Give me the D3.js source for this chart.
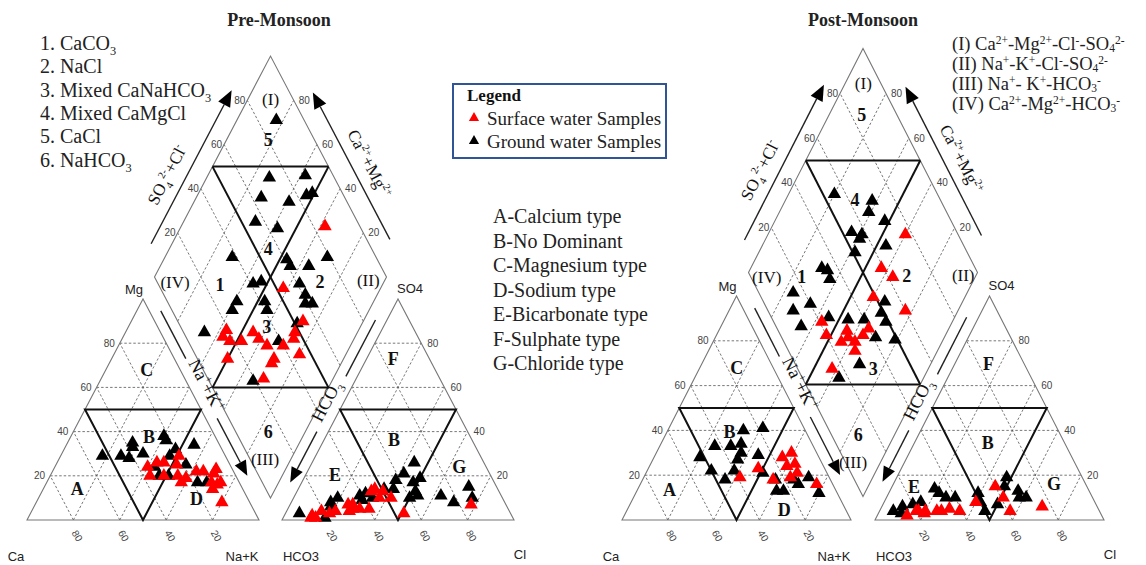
<!DOCTYPE html>
<html>
<head>
<meta charset="utf-8">
<script src="https://cdn.jsdelivr.net/npm/d3@7"></script>
<style>
  body { margin: 0; background: #fff; }
</style>
</head>
<body>
<svg id="mainsvg" width="1146" height="565"></svg>
<script>

// ---- data ----
// cation triangle: [Mg %, Na+K %]
const preCatBlack = [[29,18],[29,26],[28,30],[33,29],[35,28],[30,35],[38,40],[36,42],[29,47],[32,48],[34,55],[25,56],[20,47],[20,51],[17,65],[17,69],[24,43]]
const preCatRed = [[26,43],[26,46],[25,52],[29,51],[20,43],[20,55],[19,59],[22,62],[22,65],[21,70],[23,70],[17,71],[16,74],[17,75],[8,80],[17,58],[20,49],[24,40],[14,73]]
// anion triangle: [SO4 %, Cl %]
const preAnBlack = [[3,6],[8,17],[10,19],[11,28],[12,30],[10,34],[14,37],[14,41],[18,40],[21,42],[26,44],[17,48],[13,51],[10,50],[11,53],[19,50],[11,63],[8,70],[15,73],[10,77],[1,18],[6,18],[9,30]]
const preAnRed = [[2,12],[4,15],[1,14],[3,19],[4,21],[7,25],[4,27],[5,28],[5,35],[14,33],[10,37],[13,37],[10,42],[3,51],[7,78],[1,12],[5,31],[7,27],[13,32]]
// diamond: [SO4+Cl %, Ca+Mg %]
const preDiaBlack = [[88,83],[72,73],[88,58],[64,72],[75,59],[84,53],[87,51],[56,69],[64,58],[38,71],[61,47],[61,44],[69,36],[79,30],[45,53],[41,56],[61,36],[61,31],[42,47],[41,44],[30,59],[26,59],[59,29],[62,26],[51,28],[9,66],[39,32],[19,34]]
const preDiaRed = [[85,38],[53,42],[54,26],[19,57],[16,57],[18,53],[23,48],[30,45],[31,41],[33,36],[40,29],[48,27],[46,26],[45,20],[33,30],[31,30],[13,50],[24,30]]

const postCatBlack = [[40,33],[41,41],[33,24],[33,31],[34,35],[30,37],[27,37],[29,45],[28,20],[22,28],[18,36],[22,38],[21,51],[18,58],[13,61],[13,64],[18,66],[16,69],[19,72],[12,80]]
const postCatRed = [[19,42],[23,48],[18,57],[28,56],[30,59],[24,60],[25,63],[21,66],[19,64],[16,77]]
const postAnBlack = [[4,6],[6,9],[7,13],[8,16],[14,19],[12,22],[10,26],[10,30],[12,39],[8,42],[7,50],[19,48],[15,49],[13,56],[10,61],[10,58],[4,46],[3,10]]
const postAnRed = [[2,13],[4,17],[4,20],[4,25],[4,27],[5,30],[4,35],[8,40],[15,45],[10,51],[4,57],[6,70],[3,20],[4,16]]
const postDiaBlack = [[55,80],[70,62],[66,61],[71,52],[54,64],[58,59],[56,59],[51,58],[66,46],[33,69],[35,66],[34,63],[15,76],[20,66],[11,72],[11,65],[25,55],[33,46],[40,39],[53,34],[49,33],[49,29],[41,30],[49,21],[28,31],[16,37]]
const postDiaRed = [[77,40],[59,43],[62,36],[49,40],[60,23],[21,57],[20,52],[30,44],[25,44],[31,38],[36,36],[40,35],[29,36],[15,42],[29,42]]

const ticks = [20, 40, 60, 80]
const typeList = ['A-Calcium type','B-No Dominant','C-Magnesium type','D-Sodium type','E-Bicarbonate type','F-Sulphate type','G-Chloride type']
const saltList = [
  [['1. CaCO','n'],['3','sub']],
  [['2. NaCl','n']],
  [['3. Mixed CaNaHCO','n'],['3','sub']],
  [['4. Mixed CaMgCl','n']],
  [['5. CaCl','n']],
  [['6. NaHCO','n'],['3','sub']]
]
const facList = [
  [['(I) Ca','n'],['2+','sup'],['-Mg','n'],['2+','sup'],['-Cl','n'],['-','sup'],['-SO','n'],['4','sub'],['2-','sup']],
  [['(II) Na','n'],['+','sup'],['-K','n'],['+','sup'],['-Cl','n'],['-','sup'],['-SO','n'],['4','sub'],['2-','sup']],
  [['(III) Na','n'],['+','sup'],['- K','n'],['+','sup'],['-HCO','n'],['3','sub'],['-','sup']],
  [['(IV) Ca','n'],['2+','sup'],['-Mg','n'],['2+','sup'],['-HCO','n'],['3','sub'],['-','sup']]
]

const SERIF = "'Liberation Serif','Times New Roman',serif"
const SANS = "'Liberation Sans',Arial,sans-serif"

const panels = [
  { title: 'Pre-Monsoon', titleX: 279, x0: 27, yb: 520, W: 232, H: 221, gap: 23,
    cat: [preCatBlack, preCatRed], an: [preAnBlack, preAnRed], dia: [preDiaBlack, preDiaRed],
    marks: [['A',0.217,0.143,1],['B',0.526,0.377,1],['C',0.516,0.679,1],['D',0.731,0.098,1],
            ['E',1.328,0.204,1],['B',1.582,0.365,1],['F',1.579,0.729,1],['G',1.863,0.241,1],
            ['(I)',1.050,1.905,0],['5',1.040,1.719,1],['4',1.040,1.229,1],['1',0.832,1.063,1],['2',1.263,1.078,1],
            ['(IV)',0.638,1.078,0],['(II)',1.471,1.086,0],['3',1.033,0.875,1],['6',1.040,0.400,1],['(III)',1.026,0.276,0]] },
  { title: 'Post-Monsoon', titleX: 863, x0: 622, yb: 520, W: 229, H: 224, gap: 24,
    cat: [postCatBlack, postCatRed], an: [postAnBlack, postAnRed], dia: [postDiaBlack, postDiaRed],
    marks: [['A',0.207,0.134,1],['B',0.469,0.394,1],['C',0.501,0.682,1],['D',0.709,0.045,1],
            ['E',1.275,0.149,1],['B',1.597,0.347,1],['F',1.600,0.700,1],['G',1.886,0.161,1],
            ['(I)',1.054,1.950,0],['5',1.047,1.808,1],['4',1.017,1.429,1],['1',0.785,1.086,1],['2',1.243,1.089,1],
            ['(IV)',0.632,1.086,0],['(II)',1.490,1.094,0],['3',1.097,0.677,1],['6',1.032,0.379,1],['(III)',1.009,0.259,0]] }
]

let svg = d3.select('#mainsvg')

// text with sub / superscripts
function richText (sel, parts, base, subK = 0.3, supK = 0.4) {
  let shift = 0
  parts.forEach(([s, m]) => {
    const target = m === 'sub' ? base * subK : m === 'sup' ? -base * supK : 0
    sel.append('tspan')
      .attr('dy', target - shift)
      .attr('font-size', m === 'n' ? base : base * 0.62)
      .text(s)
    shift = target
  })
}

function arrowHead (g, p0, p1, size) {
  const dx = p1[0] - p0[0], dy = p1[1] - p0[1], L = Math.hypot(dx, dy)
  const ux = dx / L, uy = dy / L, nx = -uy, ny = ux
  const tip = [p1[0] + ux * size, p1[1] + uy * size]
  const a = [p1[0] + nx * size * 0.42, p1[1] + ny * size * 0.42]
  const b = [p1[0] - nx * size * 0.42, p1[1] - ny * size * 0.42]
  g.append('path').attr('d', `M${tip}L${a}L${b}Z`).attr('fill', '#000')
}

function drawPiper (P) {
  const g = svg.append('g')
  const xs = d3.scaleLinear().domain([0, 1]).range([P.x0, P.x0 + P.W])
  const ys = d3.scaleLinear().domain([0, 1]).range([P.yb, P.yb - P.H])
  const gp = P.gap / P.W
  const pt = (u, v) => [xs(u), ys(v)]
  const cat = (mg, na) => pt(na / 100 + mg / 200, mg / 100)
  const an = (so, cl) => pt(1 + gp + cl / 100 + so / 200, so / 100)
  const dia = (s, c) => pt(1 + gp / 2 + (s - c) / 200, gp + (s + c) / 100)
  const line = d3.line()
  const ang = Math.atan2(P.H, P.W / 2) * 180 / Math.PI

  // dashed grid
  const grid = g.append('g').attr('fill', 'none').attr('stroke', '#555')
    .attr('stroke-width', 0.8).attr('stroke-dasharray', '2.5,2')
  ;[0, 1 + gp].forEach(ox => {
    ticks.forEach(t => {
      const k = t / 100
      grid.append('path').attr('d', line([pt(ox + k / 2, k), pt(ox + 1 - k / 2, k)]))
      grid.append('path').attr('d', line([pt(ox + k, 0), pt(ox + k + (1 - k) / 2, 1 - k)]))
      grid.append('path').attr('d', line([pt(ox + 1 - k, 0), pt(ox + (1 - k) / 2, 1 - k)]))
    })
  })
  ticks.forEach(t => {
    grid.append('path').attr('d', line([dia(t, 0), dia(t, 100)]))
    grid.append('path').attr('d', line([dia(0, t), dia(100, t)]))
  })

  // outlines
  const outl = g.append('g').attr('fill', 'none').attr('stroke', '#777').attr('stroke-width', 1.1)
  outl.append('path').attr('d', line([cat(0, 0), cat(100, 0), cat(0, 100)]) + 'Z')
  outl.append('path').attr('d', line([an(0, 0), an(100, 0), an(0, 100)]) + 'Z')
  outl.append('path').attr('d', line([dia(0, 0), dia(100, 0), dia(100, 100), dia(0, 100)]) + 'Z')

  // thick facies lines
  const thick = g.append('g').attr('fill', 'none').attr('stroke', '#111').attr('stroke-width', 2)
  ;[0, 1 + gp].forEach(ox => {
    thick.append('path').attr('d', line([pt(ox + 0.25, 0.5), pt(ox + 0.75, 0.5), pt(ox + 0.5, 0)]) + 'Z')
  })
  thick.append('path').attr('d', line([dia(50, 0), dia(50, 100)]))
  thick.append('path').attr('d', line([dia(0, 50), dia(100, 50)]))
  thick.append('path').attr('d', line([dia(50, 100), dia(100, 50)]))
  thick.append('path').attr('d', line([dia(0, 50), dia(50, 0)]))

  // tick labels
  const tl = g.append('g').attr('font-family', SANS).attr('font-size', 10).attr('fill', '#444')
  ticks.forEach(t => {
    let p = cat(t, 0)
    tl.append('text').attr('x', p[0] - 5).attr('y', p[1]).attr('dy', '0.35em').attr('text-anchor', 'end').text(t)
    p = an(t, 100 - t)
    tl.append('text').attr('x', p[0] + 6).attr('y', p[1]).attr('dy', '0.35em').text(t)
    p = dia(t, 100)
    tl.append('text').attr('x', p[0] - 2).attr('y', p[1]).attr('dy', '0.35em').attr('text-anchor', 'end').text(t)
    p = dia(100, t)
    tl.append('text').attr('x', p[0] + 5).attr('y', p[1]).attr('dy', '0.35em').text(t)
    p = cat(0, 100 - t)
    tl.append('text').attr('transform', `translate(${p[0] + 1},${p[1] + 11}) rotate(60)`).attr('dy', '0.35em').text(t)
    p = an(0, t)
    tl.append('text').attr('transform', `translate(${p[0] + 1},${p[1] + 11}) rotate(60)`).attr('dy', '0.35em').text(t)
  })

  // vertex labels
  const vl = g.append('g').attr('font-family', SANS).attr('font-size', 13).attr('fill', '#222')
    .attr('text-anchor', 'middle')
  const vlab = [['Ca', cat(0, 0), -11, 41], ['Na+K', cat(0, 100), -17, 41], ['Mg', cat(100, 0), -9, -5],
    ['HCO3', an(0, 0), 19, 41], ['Cl', an(0, 100), 6, 39], ['SO4', an(100, 0), 12, -6]]
  vlab.forEach(([s, p, dx, dy]) => {
    vl.append('text').attr('x', p[0] + dx).attr('y', p[1] + dy).text(s)
  })

  // side axis captions with arrows
  const ar = g.append('g').attr('stroke', '#222').attr('stroke-width', 1.4).attr('fill', 'none')
  const ul = v => 0.5 + gp / 2 + (v - 1 - gp) / 2
  const ur = v => 1.5 + gp / 2 - (v - 1 - gp) / 2
  const ll = v => 1 + gp / 2 - (v - gp) / 2 - gp / 2
  const lr = v => 1 + gp / 2 + (v - gp) / 2 + gp / 2

  let a0 = pt(ul(1.25) - 0.09, 1.25), a1 = pt(ul(1.88) - 0.09, 1.88)
  ar.append('path').attr('d', line([a0, a1])); arrowHead(g, a0, a1, 16)
  let tp = pt(ul(1.55) - 0.15, 1.55)
  richText(g.append('text').attr('transform', `translate(${tp}) rotate(${-ang})`).attr('text-anchor', 'middle')
    .attr('dy', '0.35em').attr('font-family', SERIF).attr('fill', '#111'),
  [['SO', 'n'], ['4', 'sub'], ['2-', 'sup'], ['+Cl', 'n'], ['-', 'sup']], 17)

  a0 = pt(ur(1.27) + 0.1, 1.27); a1 = pt(ur(1.87) + 0.1, 1.87)
  ar.append('path').attr('d', line([a0, a1])); arrowHead(g, a0, a1, 16)
  tp = pt(ur(1.6) + 0.155, 1.6)
  richText(g.append('text').attr('transform', `translate(${tp}) rotate(${ang})`).attr('text-anchor', 'middle')
    .attr('dy', '0.35em').attr('font-family', SERIF).attr('fill', '#111'),
  [['Ca', 'n'], ['2+', 'sup'], ['+Mg', 'n'], ['2+', 'sup']], 17)

  ar.append('path').attr('d', line([pt(ll(0.946), 0.946), pt(ll(0.73), 0.73)]))
  a0 = pt(ll(0.46), 0.46); a1 = pt(ll(0.26), 0.26)
  ar.append('path').attr('d', line([a0, a1])); arrowHead(g, a0, a1, 15)
  tp = pt(ll(0.597), 0.597)
  richText(g.append('text').attr('transform', `translate(${tp}) rotate(${ang})`).attr('text-anchor', 'middle')
    .attr('dy', '0.35em').attr('font-family', SERIF).attr('fill', '#111'),
  [['Na', 'n'], ['+', 'sup'], ['+K', 'n'], ['+', 'sup']], 18)

  ar.append('path').attr('d', line([pt(lr(0.905), 0.905), pt(lr(0.65), 0.65)]))
  a0 = pt(lr(0.40), 0.40); a1 = pt(lr(0.23), 0.23)
  ar.append('path').attr('d', line([a0, a1])); arrowHead(g, a0, a1, 15)
  tp = pt(lr(0.525), 0.525)
  richText(g.append('text').attr('transform', `translate(${tp}) rotate(${-ang})`).attr('text-anchor', 'middle')
    .attr('dy', '0.35em').attr('font-family', SERIF).attr('fill', '#111'),
  [['HCO', 'n'], ['3', 'sub']], 18)

  // region letters / numbers
  P.marks.forEach(([s, u, v, bold]) => {
    const p = pt(u, v)
    g.append('text').attr('x', p[0]).attr('y', p[1]).attr('dy', '0.35em').attr('text-anchor', 'middle')
      .attr('font-family', SERIF).attr('font-size', bold ? 18 : 17)
      .attr('font-weight', bold ? 'bold' : 'normal').attr('fill', '#111').text(s)
  })

  // samples
  const sym = d3.symbol().type(d3.symbolTriangle).size(78)
  const colors = ['#000000', '#ff0000']
  const groups = [[P.cat, d => cat(d[0], d[1])], [P.an, d => an(d[0], d[1])], [P.dia, d => dia(d[0], d[1])]]
  groups.forEach(([sets, f]) => {
    sets.forEach((arr, i) => {
      g.append('g').selectAll('path').data(arr).enter().append('path')
        .attr('d', sym)
        .attr('transform', d => `translate(${f(d)})`)
        .attr('fill', colors[i])
    })
  })

  // title
  svg.append('text').attr('x', P.titleX).attr('y', 26).attr('text-anchor', 'middle')
    .attr('font-family', SERIF).attr('font-weight', 'bold').attr('font-size', 18).attr('fill', '#222')
    .text(P.title)
}

panels.forEach(drawPiper)

// left list of salts
saltList.forEach((parts, i) => {
  richText(svg.append('text').attr('x', 40).attr('y', 50 + i * 23.3)
    .attr('font-family', SERIF).attr('fill', '#222'), parts, 20, 0.25)
})

// facies list (top right)
facList.forEach((parts, i) => {
  richText(svg.append('text').attr('x', 952).attr('y', 49.5 + i * 20)
    .attr('font-family', SERIF).attr('fill', '#222'), parts, 18.5, 0.16, 0.3)
})

// type list
typeList.forEach((s, i) => {
  svg.append('text').attr('x', 493).attr('y', 223 + i * 24.5)
    .attr('font-family', SERIF).attr('font-size', 20).attr('fill', '#222').text(s)
})

// legend box
const leg = svg.append('g')
leg.append('rect').attr('x', 453).attr('y', 84).attr('width', 213).attr('height', 74)
  .attr('fill', '#fff').attr('stroke', '#2f5597').attr('stroke-width', 2)
leg.append('text').attr('x', 467).attr('y', 101).attr('font-family', SERIF).attr('font-weight', 'bold')
  .attr('font-size', 17).attr('fill', '#111').text('Legend')
const legItems = [['Surface water Samples', '#ff0000'], ['Ground water Samples', '#000000']]
legItems.forEach(([s, c], i) => {
  const y = 118 + i * 23
  leg.append('path').attr('d', d3.symbol().type(d3.symbolTriangle).size(45)).attr('fill', c)
    .attr('transform', `translate(474,${y})`)
  leg.append('text').attr('x', 487).attr('y', y).attr('dy', '0.35em').attr('font-family', SERIF)
    .attr('font-size', 19).attr('fill', '#222').text(s)
})
</script>
</body>
</html>
